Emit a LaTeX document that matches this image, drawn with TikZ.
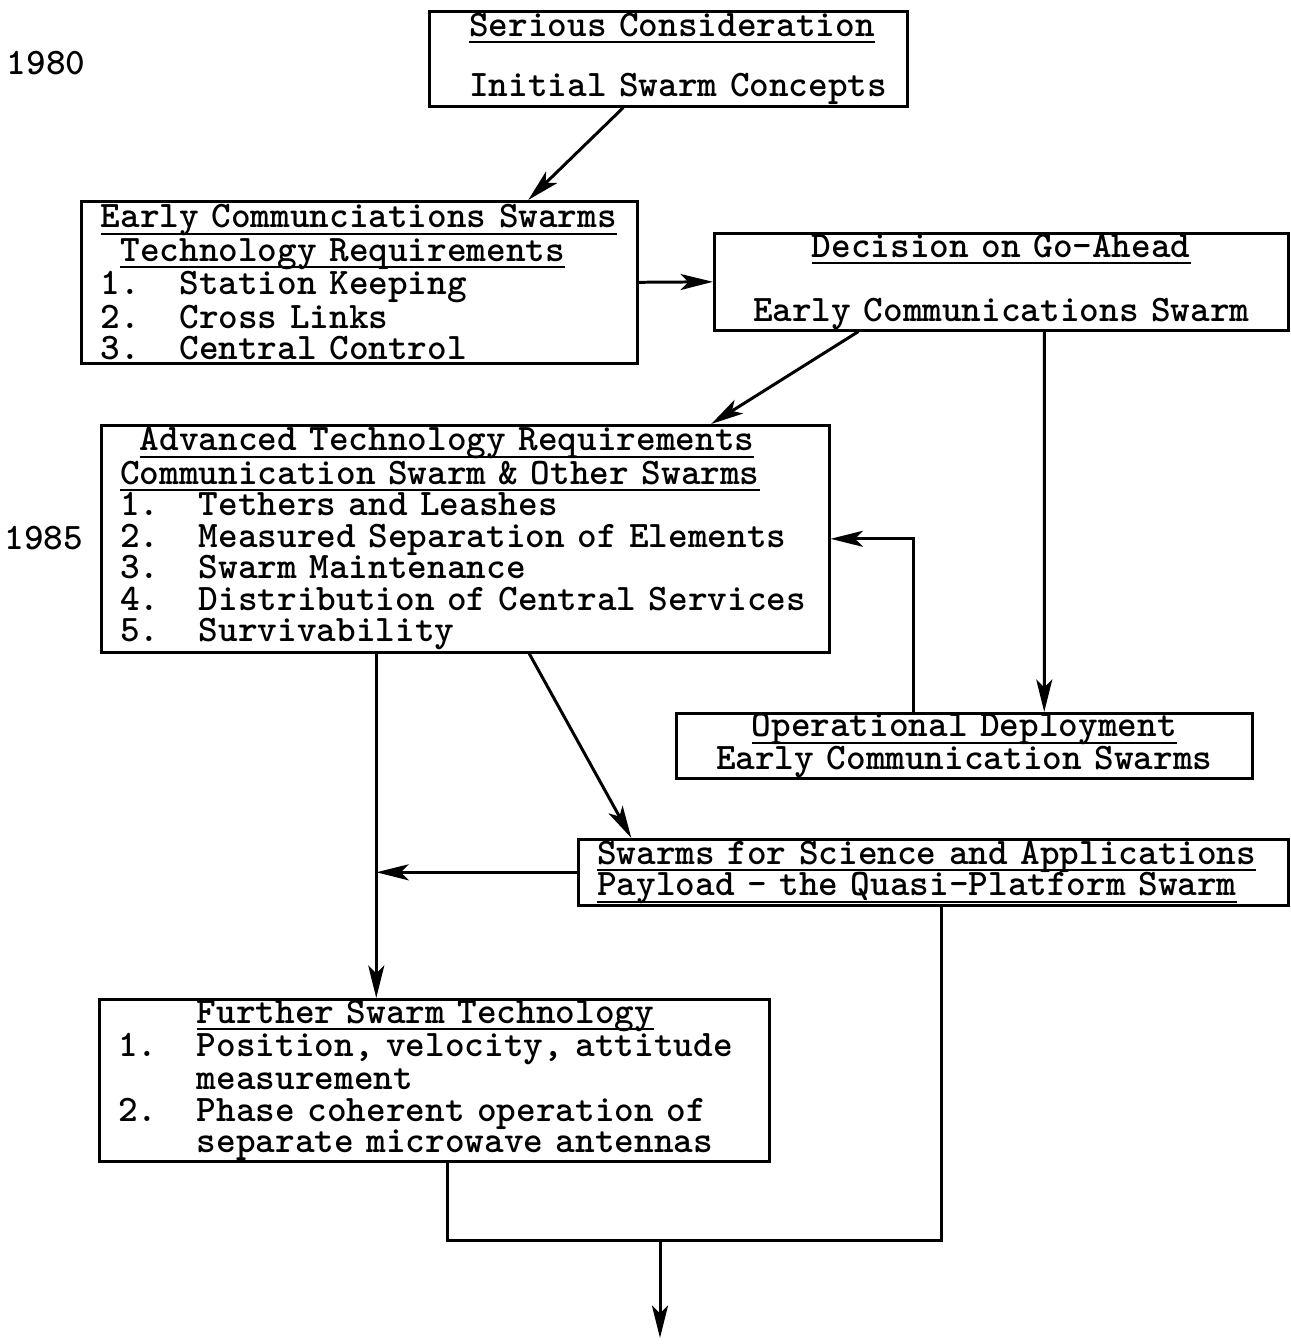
\documentclass[tikz,border=0pt]{standalone}
\usetikzlibrary{arrows.meta, positioning, calc}
\setlength{\lineskiplimit}{-100pt}
\newcommand{\undl}[1]{\leavevmode\setbox0=\hbox{#1}\rlap{\rule[-4pt]{\wd0}{1.1pt}}\box0}
\newcommand{\itm}[2]{\mbox{\rlap{#1}\phantom{0000}#2}}

\begin{document}
\begin{tikzpicture}[
    x=0.02cm, y=-0.02cm,
    font=\ttfamily\bfseries\fontsize{21.3}{17.9}\selectfont,
    phase/.style={rectangle, draw, line width=1.5pt, inner sep=0pt, anchor=north west, align=left},
    arrow/.style={-{Stealth[length=0.65cm, width=0.32cm, inset=0.16cm]}, line width=1.7pt},
    link/.style={line width=1.7pt}
]
    \useasboundingbox (0,0) rectangle (1290,1344);

    \node (y1980) at (46,63) {1980};
    \node (y1985) at (44,538) {1985};

    \node[phase, minimum width=9.56cm, minimum height=1.9cm, text width=7.96cm] (serious) at (428,10)
        {\undl{Serious Consideration}\\[16.5pt]\mbox{Initial Swarm Concepts}};
    \node[phase, minimum width=11.12cm, minimum height=3.24cm, text width=10.34cm] (early) at (80,200)
        {\undl{Early Communciations Swarms}\\
         \phantom{0}\undl{Technology Requirements}\\
         \itm{1.}{Station Keeping}\\
         \itm{2.}{Cross Links}\\
         \itm{3.}{Central Control}};
    \node[phase, minimum width=11.48cm, minimum height=1.94cm, text width=11cm, align=center] (decision) at (713,232)
        {\undl{Decision on Go-Ahead}\\[18.7pt]\mbox{Early Communications Swarm}};
    \node[phase, minimum width=14.56cm, minimum height=4.54cm, text width=13.8cm] (advanced) at (100,424)
        {\phantom{0}\undl{Advanced Technology Requirements}\\
         \undl{Communication Swarm \& Other Swarms}\\
         \itm{1.}{Tethers and Leashes}\\
         \itm{2.}{Measured Separation of Elements}\\
         \itm{3.}{Swarm Maintenance}\\
         \itm{4.}{Distribution of Central Services}\\
         \itm{5.}{Survivability}};
    \node[phase, minimum width=11.52cm, minimum height=1.28cm, text width=11cm, align=center] (deploy) at (675,712)
        {\undl{Operational Deployment}\\\mbox{Early Communication Swarms}};
    \node[phase, minimum width=14.2cm, minimum height=1.32cm, text width=13.44cm] (science) at (577,838)
        {\undl{Swarms for Science and Applications}\\
         \undl{Payload - the Quasi-Platform Swarm}};
    \node[phase, minimum width=13.4cm, minimum height=3.24cm, text width=12.64cm] (further) at (98,998)
        {\phantom{0000}\undl{Further Swarm Technology}\\
         \itm{1.}{Position, velocity, attitude}\\
         \itm{}{measurement}\\
         \itm{2.}{Phase coherent operation of}\\
         \itm{}{separate microwave antennas}};

    \coordinate (trunk) at ([xshift=-1.78cm]advanced.south);
    \coordinate (merge) at (660,1240);
    \coordinate (onward) at (660,1338);

    \draw[arrow] ([xshift=-0.9cm]serious.south) -- ([xshift=3.38cm]early.north);
    \draw[arrow] (early.east) -- (decision.west);
    \draw[arrow] ([xshift=-2.86cm]decision.south) -- ([xshift=4.92cm]advanced.north);
    \draw[arrow] ([xshift=0.86cm]decision.south) -- ([xshift=1.6cm]deploy.north);
    \draw[arrow] ([xshift=-1.02cm]deploy.north) |- (advanced.east);
    \draw[arrow] ([xshift=1.28cm]advanced.south) -- ([xshift=-6.04cm]science.north);
    \draw[arrow] (trunk) -- (trunk |- further.north);
    \draw[arrow] (science.west) -- (science.west -| trunk);
    \draw[link] ([xshift=0.26cm]further.south) |- (merge) -| ([xshift=0.16cm]science.south);
    \draw[arrow] (merge) -- (onward);
\end{tikzpicture}
\end{document}
